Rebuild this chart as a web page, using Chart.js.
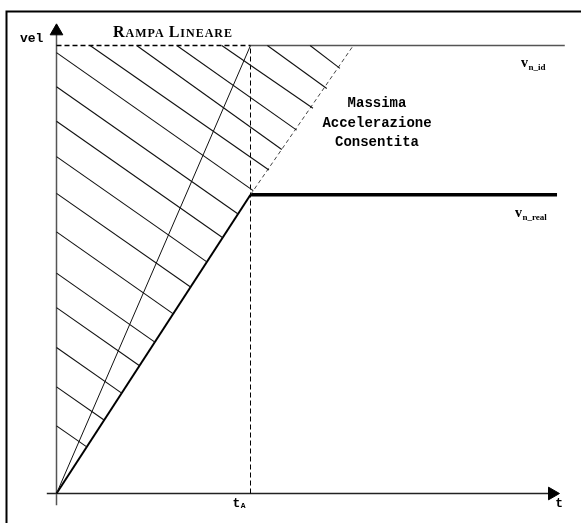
<!DOCTYPE html>
<html>
<head>
<meta charset="utf-8">
<script src="https://cdn.jsdelivr.net/npm/chart.js@4.4.1/dist/chart.umd.min.js"></script>
<style>
  html, body { margin: 0; padding: 0; background: #fff; }
  canvas { display: block; }
</style>
</head>
<body>
<canvas id="rampChart" width="581" height="523"></canvas>
<script>
// time in units of t_A, speed in units of v_n_id
const tA = 1;
const vIdeal = 1;
const vReal = 0.667;
const tPlateauEnd = 2.58;   // end of the v_n_real plateau
const tIdealEnd = 2.62;     // end of the v_n_id line
const accelTopT = 1.53;     // max acceleration line reaches v_n_id here

// axis extents (slightly past the origin, arrow at the far end)
const tAxis = [-0.05, 2.555];
const vAxis = [-0.026, 1.032];

// hatch lines that start on the vel axis
const axisHatchV0 = [0.984, 0.908, 0.831, 0.752, 0.670, 0.584, 0.492, 0.415, 0.326, 0.238, 0.151];
const axisHatchEndT = [1.014, 0.936, 0.857, 0.775, 0.691, 0.602, 0.507, 0.428, 0.336, 0.245, 0.156];
const axisHatchEndV = [0.676, 0.624, 0.571, 0.517, 0.461, 0.401, 0.338, 0.285, 0.224, 0.164, 0.104];

// hatch lines that start on the v_n_id line
const topHatchT0 = [0.173, 0.413, 0.620, 0.852, 1.087, 1.307];
const topHatchEndT = [1.095, 1.161, 1.238, 1.322, 1.393, 1.461];
const topHatchEndV = [0.722, 0.768, 0.811, 0.860, 0.904, 0.949];

// pixel scale: 194 px per t_A, 448 px per v_n_id
const PX_T = 194, PX_V = 448;
const X_MIN = 0, X_MAX = 2.6, Y_MIN = 0, Y_MAX = 1.05;
const ORIGIN_X = 56.5, ORIGIN_Y = 493.5;
const W = 581, H = 523;

function seg(points, style) {
    return Object.assign({
        data: points,
        showLine: true,
        borderColor: '#000',
        borderWidth: 1,
        pointRadius: 0,
        clip: false,
        tension: 0
    }, style);
}

const datasets = [];

// hatching of the ideal ramp area
axisHatchV0.forEach((v0, i) => {
    datasets.push(seg([{ x: 0, y: v0 }, { x: axisHatchEndT[i], y: axisHatchEndV[i] }], { borderColor: '#111', borderWidth: 1.1 }));
});
topHatchT0.forEach((t0, i) => {
    datasets.push(seg([{ x: t0, y: vIdeal }, { x: topHatchEndT[i], y: topHatchEndV[i] }], { borderColor: '#111', borderWidth: 1.1 }));
});

// guides
datasets.push(seg([{ x: 0, y: vIdeal }, { x: tA, y: vIdeal }], { borderDash: [5, 3], borderWidth: 1.3 }));
datasets.push(seg([{ x: tA, y: 0 }, { x: tA, y: vIdeal }], { borderDash: [5, 3] }));
datasets.push(seg([{ x: tA, y: vReal }, { x: accelTopT, y: vIdeal }], { borderDash: [4, 3], borderColor: '#444' }));

// ideal ramp and plateau
datasets.push(seg([{ x: 0, y: 0 }, { x: tA, y: vIdeal }], { borderColor: '#111' }));
datasets.push(seg([{ x: tA, y: vIdeal }, { x: tIdealEnd, y: vIdeal }], { borderColor: '#555', borderWidth: 1.5 }));

// real ramp (max acceleration) and plateau
datasets.push(seg([{ x: 0, y: 0 }, { x: tA, y: vReal }], { borderWidth: 2 }));
datasets.push(seg([{ x: tA, y: vReal }, { x: tPlateauEnd, y: vReal }], { borderWidth: 3.5 }));

// axes with arrow heads
const arrowRadius = [0, 7.3];
datasets.push(seg([{ x: 0, y: vAxis[0] }, { x: 0, y: vAxis[1] }], {
    borderColor: '#555', borderWidth: 1.5,
    pointStyle: 'triangle', pointRadius: arrowRadius, pointRotation: 0,
    pointBackgroundColor: '#000', pointBorderColor: '#000', pointBorderWidth: 1
}));
datasets.push(seg([{ x: tAxis[0], y: 0 }, { x: tAxis[1], y: 0 }], {
    borderColor: '#222', borderWidth: 1.5,
    pointStyle: 'triangle', pointRadius: arrowRadius, pointRotation: 90,
    pointBackgroundColor: '#000', pointBorderColor: '#000', pointBorderWidth: 1
}));

const framePlugin = {
    id: 'frame',
    beforeDraw(chart) {
        const ctx = chart.ctx;
        ctx.save();
        ctx.fillStyle = '#fff';
        ctx.fillRect(0, 0, W, H);
        ctx.strokeStyle = '#000';
        ctx.lineWidth = 2;
        ctx.beginPath();
        ctx.moveTo(W, 11.5);
        ctx.lineTo(6.5, 11.5);
        ctx.lineTo(6.5, H);
        ctx.stroke();
        ctx.restore();
    }
};

function drawSmallCaps(ctx, cx, y, parts, spacing) {
    ctx.letterSpacing = spacing + 'px';
    let total = 0;
    parts.forEach(p => {
        ctx.font = 'bold ' + p[1] + 'px "Liberation Serif"';
        total += ctx.measureText(p[0]).width;
    });
    let x = cx - total / 2;
    ctx.textAlign = 'left';
    parts.forEach(p => {
        ctx.font = 'bold ' + p[1] + 'px "Liberation Serif"';
        ctx.fillText(p[0], x, y);
        x += ctx.measureText(p[0]).width;
    });
    ctx.letterSpacing = '0px';
}

function drawSubscripted(ctx, x, y, main, sub, mainFont, subFont, drop) {
    ctx.textAlign = 'left';
    ctx.font = mainFont;
    ctx.fillText(main, x, y);
    const w = ctx.measureText(main).width;
    ctx.font = subFont;
    ctx.fillText(sub, x + w + 0.5, y + drop);
}

const labelPlugin = {
    id: 'labels',
    afterDatasetsDraw(chart) {
        const ctx = chart.ctx;
        const xs = chart.scales.x, ys = chart.scales.y;
        ctx.save();
        ctx.fillStyle = '#000';
        ctx.textBaseline = 'alphabetic';

        // axis names
        ctx.font = 'bold 13px "Liberation Mono"';
        ctx.textAlign = 'left';
        ctx.fillText('vel', 20, 42);
        ctx.fillText('t', xs.getPixelForValue(tAxis[1]) + 3, 507);

        drawSubscripted(ctx, xs.getPixelForValue(tA) - 18, 507, 't', 'A',
            'bold 13px "Liberation Mono"', 'bold 8px "Liberation Mono"', 1);

        // title in small caps
        drawSmallCaps(ctx, 173, 37, [['R', 16], ['AMPA', 12], [' ', 12], ['L', 16], ['INEARE', 12]], 1);

        // max acceleration note
        ctx.font = 'bold 14px "Liberation Mono"';
        ctx.textAlign = 'center';
        ['Massima', 'Accelerazione', 'Consentita'].forEach((line, i) => {
            ctx.fillText(line, 377, 107 + i * 19.5);
        });

        // plateau labels
        drawSubscripted(ctx, 521, ys.getPixelForValue(vIdeal) + 21, 'v', 'n_id',
            'bold 14px "Liberation Serif"', 'bold 9px "Liberation Serif"', 3);
        drawSubscripted(ctx, 515, ys.getPixelForValue(vReal) + 22, 'v', 'n_real',
            'bold 14px "Liberation Serif"', 'bold 9px "Liberation Serif"', 3);
        ctx.restore();
    }
};

new Chart(document.getElementById('rampChart'), {
    type: 'scatter',
    data: { datasets },
    options: {
        responsive: false,
        animation: false,
        devicePixelRatio: 1,
        layout: {
            padding: {
                left: ORIGIN_X,
                right: W - (ORIGIN_X + X_MAX * PX_T),
                top: ORIGIN_Y - Y_MAX * PX_V,
                bottom: H - ORIGIN_Y
            }
        },
        scales: {
            x: { type: 'linear', min: X_MIN, max: X_MAX, display: false },
            y: { type: 'linear', min: Y_MIN, max: Y_MAX, display: false }
        },
        plugins: {
            legend: { display: false },
            tooltip: { enabled: false }
        }
    },
    plugins: [framePlugin, labelPlugin]
});
</script>
</body>
</html>
